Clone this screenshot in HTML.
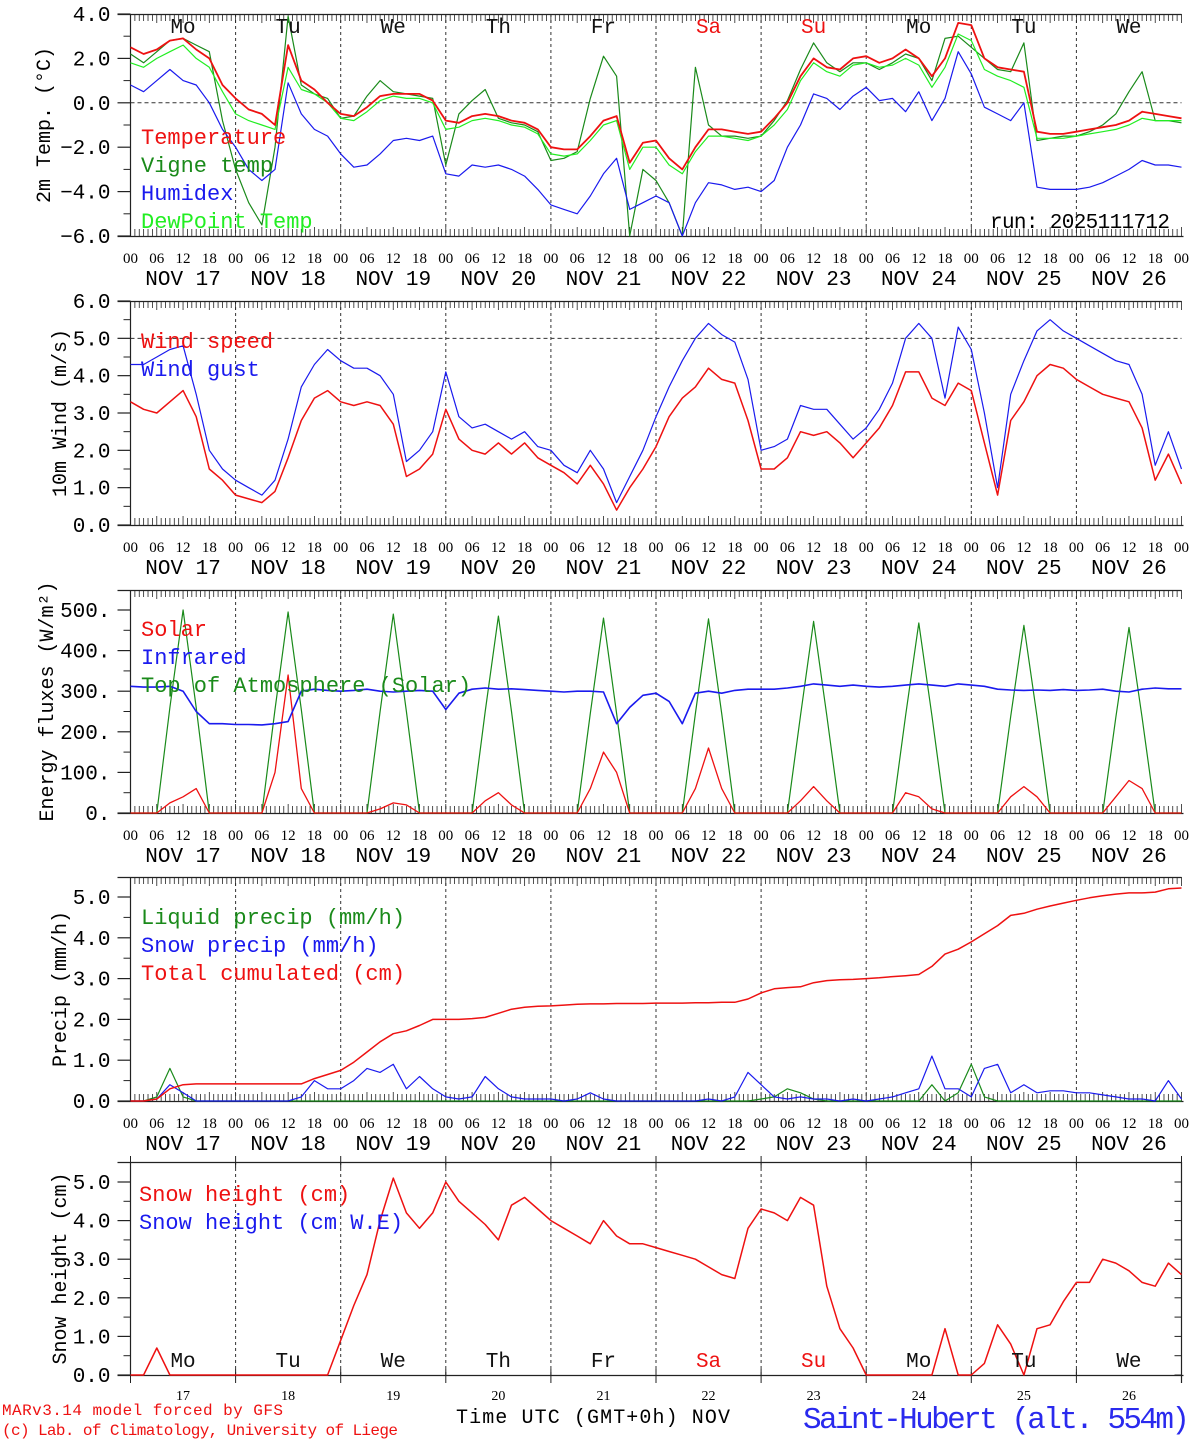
<!DOCTYPE html>
<html><head><meta charset="utf-8"><style>
body{margin:0;background:#fff;width:1194px;height:1440px;overflow:hidden}
svg{display:block}
text{font-family:"Liberation Serif","DejaVu Serif",serif}
.m{font-family:"Liberation Mono","DejaVu Sans Mono",monospace}
</style></head><body>
<svg id="c" width="1194" height="1440" xmlns="http://www.w3.org/2000/svg"></svg>
<script>
// ---- data (3-hourly from NOV 17 00 UTC) ----
const days=['17','18','19','20','21','22','23','24','25','26'];
const dayNames=['Mo','Tu','We','Th','Fr','Sa','Su','Mo','Tu','We'];
const tempVals=[2.5,2.2,2.4,2.8,2.9,2.4,2.0,0.8, 0.2,-0.3,-0.5,-1.0,2.6,1.0,0.6,0.0, -0.5,-0.6,-0.2,0.3,0.4,0.4,0.4,0.1, -0.8,-0.9,-0.6,-0.5,-0.6,-0.8,-0.9,-1.2, -2.0,-2.1,-2.1,-1.5,-0.8,-0.6,-2.7,-1.8, -1.7,-2.5,-3.0,-2.0,-1.2,-1.2,-1.3,-1.4, -1.3,-0.7,0.0,1.2,2.0,1.6,1.5,2.0, 2.1,1.8,2.0,2.4,2.0,1.2,2.0,3.6, 3.5,2.0,1.6,1.5,1.4,-1.3,-1.4,-1.4, -1.3,-1.2,-1.1,-1.0,-0.8,-0.4,-0.5,-0.6,-0.7];
const vigneVals=[2.2,1.8,2.3,2.8,2.9,2.6,2.3,-0.8, -3.0,-4.5,-5.5,-2.0,3.9,0.8,0.4,0.2, -0.7,-0.6,0.3,1.0,0.5,0.4,0.3,0.2, -2.8,-0.5,0.1,0.6,-0.7,-0.9,-1.0,-1.3, -2.6,-2.5,-2.2,0.2,2.1,1.2,-6.0,-3.0, -3.5,-4.5,-6.0,1.6,-1.0,-1.5,-1.5,-1.6, -1.5,-0.8,0.1,1.5,2.7,1.8,1.4,1.8, 1.8,1.5,1.8,2.2,2.0,1.0,2.9,3.0, 2.5,2.0,1.5,1.4,2.7,-1.7,-1.6,-1.5, -1.5,-1.3,-1.0,-0.5,0.5,1.4,-0.8,-0.8,-0.9];
const humidexVals=[0.8,0.5,1.0,1.5,1.0,0.8,0.0,-1.2, -2.0,-3.0,-3.5,-3.0,0.9,-0.5,-1.2,-1.5, -2.3,-2.9,-2.8,-2.3,-1.7,-1.6,-1.7,-1.5, -3.2,-3.3,-2.8,-2.9,-2.8,-3.0,-3.3,-3.9, -4.6,-4.8,-5.0,-4.2,-3.2,-2.5,-4.8,-4.5, -4.2,-4.5,-6.0,-4.5,-3.6,-3.7,-3.9,-3.8, -4.0,-3.5,-2.0,-1.0,0.4,0.2,-0.3,0.3, 0.7,0.1,0.2,-0.4,0.5,-0.8,0.2,2.3, 1.3,-0.2,-0.5,-0.8,0.0,-3.8,-3.9,-3.9, -3.9,-3.8,-3.6,-3.3,-3.0,-2.6,-2.8,-2.8,-2.9];
const dewVals=[1.8,1.6,2.0,2.3,2.6,2.0,1.6,0.5, -0.5,-0.8,-1.0,-1.2,1.6,0.6,0.4,0.0, -0.7,-0.8,-0.4,0.1,0.3,0.2,0.2,0.0, -1.2,-1.1,-0.8,-0.7,-0.8,-1.0,-1.1,-1.4, -2.3,-2.4,-2.3,-1.7,-1.0,-0.8,-3.0,-2.0, -2.0,-2.8,-3.2,-2.2,-1.5,-1.5,-1.6,-1.7, -1.5,-1.0,-0.3,1.0,1.8,1.4,1.2,1.7, 1.8,1.6,1.7,2.0,1.7,0.7,1.6,3.1, 2.8,1.5,1.2,1.0,0.7,-1.6,-1.6,-1.6, -1.5,-1.4,-1.3,-1.2,-1.0,-0.7,-0.8,-0.8,-0.8];
const windVals=[3.3,3.1,3.0,3.3,3.6,2.9,1.5,1.2, 0.8,0.7,0.6,0.9,1.8,2.8,3.4,3.6, 3.3,3.2,3.3,3.2,2.7,1.3,1.5,1.9, 3.1,2.3,2.0,1.9,2.2,1.9,2.2,1.8, 1.6,1.4,1.1,1.6,1.1,0.4,1.0,1.5, 2.1,2.9,3.4,3.7,4.2,3.9,3.8,2.8, 1.5,1.5,1.8,2.5,2.4,2.5,2.2,1.8, 2.2,2.6,3.2,4.1,4.1,3.4,3.2,3.8, 3.6,2.2,0.8,2.8,3.3,4.0,4.3,4.2, 3.9,3.7,3.5,3.4,3.3,2.6,1.2,1.9,1.1];
const gustVals=[4.3,4.3,4.5,4.7,4.8,3.5,2.0,1.5, 1.2,1.0,0.8,1.2,2.3,3.7,4.3,4.7, 4.4,4.2,4.2,4.0,3.5,1.7,2.0,2.5, 4.1,2.9,2.6,2.7,2.5,2.3,2.5,2.1, 2.0,1.6,1.4,2.0,1.5,0.6,1.3,2.0, 2.9,3.7,4.4,5.0,5.4,5.1,4.9,3.9, 2.0,2.1,2.3,3.2,3.1,3.1,2.7,2.3, 2.6,3.1,3.8,5.0,5.4,5.0,3.4,5.3, 4.7,3.0,1.0,3.5,4.4,5.2,5.5,5.2, 5.0,4.8,4.6,4.4,4.3,3.5,1.6,2.5,1.5];
const solarVals=[0,0,0,25,40,60,0,0, 0,0,0,100,340,60,0,0, 0,0,0,10,25,20,0,0, 0,0,0,30,50,20,0,0, 0,0,0,60,150,100,0,0, 0,0,0,60,160,60,0,0, 0,0,0,30,65,30,0,0, 0,0,0,50,40,10,0,0, 0,0,0,40,65,40,0,0, 0,0,0,40,80,60,0,0,0];
const irVals=[312,310,310,312,300,250,220,220, 218,218,217,220,225,300,305,302, 300,302,305,300,298,300,302,300, 255,295,305,308,305,306,304,302, 300,298,300,300,298,220,260,290, 295,275,220,295,300,295,302,305, 305,305,308,312,318,315,312,315, 312,310,312,315,318,315,312,318, 315,312,305,303,302,303,302,304, 302,303,305,300,298,305,308,306,306];
const toaVals=[0,0,0,260,500,260,0,0, 0,0,0,255,495,255,0,0, 0,0,0,250,490,250,0,0, 0,0,0,250,485,250,0,0, 0,0,0,245,480,245,0,0, 0,0,0,245,478,245,0,0, 0,0,0,240,472,240,0,0, 0,0,0,240,468,240,0,0, 0,0,0,238,462,238,0,0, 0,0,0,235,457,235,0,0,0];
const liquidVals=[0,0,0.1,0.8,0.1,0,0,0, 0,0,0,0,0,0,0,0, 0,0,0,0,0,0,0,0, 0,0,0,0,0,0,0,0, 0,0,0,0,0,0,0,0, 0,0,0,0,0,0,0,0, 0.05,0.1,0.3,0.2,0.05,0,0,0, 0,0,0,0,0,0.4,0,0.2, 0.9,0.1,0,0,0,0,0,0, 0,0,0,0,0,0,0,0,0];
const snowVals=[0,0,0.05,0.4,0.2,0,0,0, 0,0,0,0,0,0.1,0.5,0.3, 0.3,0.5,0.8,0.7,0.9,0.3,0.6,0.3, 0.1,0.05,0.1,0.6,0.3,0.1,0.05,0.05, 0.05,0,0.05,0.2,0.05,0,0,0, 0,0,0,0,0.05,0,0.1,0.7, 0.4,0.1,0.05,0.1,0.05,0.05,0,0.05, 0,0.05,0.1,0.2,0.3,1.1,0.3,0.3, 0.1,0.8,0.9,0.2,0.4,0.2,0.25,0.25, 0.2,0.2,0.15,0.1,0.05,0.05,0,0.5,0.05];
const cumVals=[0,0,0.05,0.3,0.4,0.42,0.42,0.42, 0.42,0.42,0.42,0.42,0.42,0.42,0.55,0.65, 0.75,0.95,1.2,1.45,1.65,1.72,1.85,2.0, 2.0,2.0,2.02,2.05,2.15,2.25,2.3,2.32, 2.33,2.35,2.37,2.38,2.38,2.39,2.39,2.39, 2.4,2.4,2.4,2.41,2.41,2.42,2.42,2.5, 2.65,2.75,2.78,2.8,2.9,2.95,2.97,2.98, 3.0,3.02,3.05,3.07,3.1,3.3,3.6,3.72, 3.9,4.1,4.3,4.55,4.6,4.7,4.78,4.85, 4.92,4.98,5.03,5.07,5.1,5.1,5.12,5.2,5.22];
const snowHVals=[0,0,0.7,0,0,0,0,0, 0,0,0,0,0,0,0,0, 0.9,1.8,2.6,4.0,5.1,4.2,3.8,4.2, 5.0,4.5,4.2,3.9,3.5,4.4,4.6,4.3, 4.0,3.8,3.6,3.4,4.0,3.6,3.4,3.4, 3.3,3.2,3.1,3.0,2.8,2.6,2.5,3.8, 4.3,4.2,4.0,4.6,4.4,2.3,1.2,0.7, 0,0,0,0,0,0,1.2,0, 0,0.3,1.3,0.8,0,1.2,1.3,1.9, 2.4,2.4,3.0,2.9,2.7,2.4,2.3,2.9,2.6];

const svg=document.getElementById('c');
const NS='http://www.w3.org/2000/svg';
const X0=130.5,X1=1181.5,STEP=3;
const xOf=h=>X0+h*(X1-X0)/240;
function el(tag,a,parent){const e=document.createElementNS(NS,tag);for(const k in a)e.setAttribute(k,a[k]);(parent||svg).appendChild(e);return e;}
function txt(s,a,parent){const e=el('text',a,parent);e.textContent=s;return e;}

const panels=[
 {name:'temperature',top:14,bot:236,vmin:-6,vmax:4,y0:14,y1:236,ticks:[-6,-4,-2,0,2,4],minor:[-5,-3,-1,1,3],label:'2m Temp. (\u00b0C)',lx:44,
  series:[[vigneVals,'#1a8a1a',1.2],[dewVals,'#22ee22',1.2],[humidexVals,'#1a1aee',1.2],[tempVals,'#ee1111',1.8]],
  legend:[['Temperature','#ee1111'],['Vigne temp','#1a8a1a'],['Humidex','#1a1aee'],['DewPoint Temp','#22ee22']],ly:138,dec:1},
 {name:'wind',top:301,bot:525,vmin:0,vmax:6,y0:301,y1:525,ticks:[0,1,2,3,4,5,6],minor:[0.5,1.5,2.5,3.5,4.5,5.5],label:'10m Wind (m/s)',lx:60,
  series:[[gustVals,'#1a1aee',1.2],[windVals,'#ee1111',1.5]],legend:[['Wind speed','#ee1111'],['Wind gust','#1a1aee']],ly:342,dec:1},
 {name:'energy',top:590,bot:813,vmin:0,vmax:500,y0:610,y1:813,ticks:[0,100,200,300,400,500],minor:[50,150,250,350,450],label:'Energy fluxes (W/m\u00b2)',lx:47,
  series:[[toaVals,'#1a8a1a',1.2],[solarVals,'#ee1111',1.3],[irVals,'#1a1aee',1.6]],legend:[['Solar','#ee1111'],['Infrared','#1a1aee'],['Top of Atmosphere (Solar)','#1a8a1a']],ly:630,dec:0},
 {name:'precip',top:877,bot:1101,vmin:0,vmax:5,y0:897,y1:1101,ticks:[0,1,2,3,4,5],minor:[0.5,1.5,2.5,3.5,4.5],label:'Precip (mm/h)',lx:60,
  series:[[liquidVals,'#1a8a1a',1.2],[snowVals,'#1a1aee',1.2],[cumVals,'#ee1111',1.5]],legend:[['Liquid precip (mm/h)','#1a8a1a'],['Snow precip (mm/h)','#1a1aee'],['Total cumulated (cm)','#ee1111']],ly:918,dec:1},
 {name:'snow-height',top:1162,bot:1375,vmin:0,vmax:5,y0:1182,y1:1375,ticks:[0,1,2,3,4,5],minor:[0.5,1.5,2.5,3.5,4.5],label:'Snow height (cm)',lx:60,
  series:[[snowHVals,'#ee1111',1.5]],legend:[['Snow height (cm)','#ee1111'],['Snow height (cm W.E)','#1a1aee']],ly:1195,dec:1,last:true}
];

panels.forEach(p=>{
  const g=el('g',{});
  
  
  const yOf=v=>p.y1-(v-p.vmin)*(p.y1-p.y0)/(p.vmax-p.vmin);
  for(let d=1;d<10;d++){const x=xOf(d*24);el('line',{x1:x,x2:x,y1:p.top,y2:p.bot,stroke:'#333','stroke-dasharray':'3,3','stroke-width':1},g);}
  if(p.name==='temperature') el('line',{x1:X0,x2:X1,y1:yOf(0),y2:yOf(0),stroke:'#333','stroke-dasharray':'4,3'},g);
  if(p.name==='wind') el('line',{x1:X0,x2:X1,y1:yOf(5),y2:yOf(5),stroke:'#333','stroke-dasharray':'4,3'},g);
  el('line',{x1:X0,x2:X0,y1:p.top,y2:p.bot,stroke:'#222','stroke-width':1.2},g);
  el('line',{x1:X0-13,x2:X1,y1:p.top+0.5,y2:p.top+0.5,stroke:'#222','stroke-width':1.2},g);
  el('line',{x1:X0-13,x2:X1+2,y1:p.bot+0.5,y2:p.bot+0.5,stroke:'#222','stroke-width':1.2},g);
  if(p.last){el('line',{x1:X1,x2:X1,y1:p.top,y2:p.bot+8,stroke:'#222','stroke-width':1.2},g);
    p.ticks.concat(p.minor).forEach(v=>el('line',{x1:X1-7,x2:X1,y1:yOf(v),y2:yOf(v),stroke:'#222'},g));
    for(let d=0;d<=10;d++){const x=xOf(d*24);el('line',{x1:x,x2:x,y1:p.top-6,y2:p.top+6,stroke:'#222'},g);el('line',{x1:x,x2:x,y1:p.bot-6,y2:p.bot+8,stroke:'#222'},g);}
  } else {
    for(let h=0;h<=240;h++){const x=xOf(h);const L=(h%6===0)?9:7;
      el('line',{x1:x,x2:x,y1:p.top,y2:p.top+L,stroke:'#222','stroke-width':0.8},g);
      el('line',{x1:x,x2:x,y1:p.bot-L,y2:p.bot,stroke:'#222','stroke-width':0.8},g);}
    for(let h=0;h<=240;h+=6){const t=txt(String(h%24).padStart(2,'0'),{x:xOf(h),y:p.bot+27,'text-anchor':'middle','font-size':15},g);
      }
    days.forEach((d,i)=>{const t=txt('NOV '+d,{x:xOf(i*24+12),y:p.bot+49,'text-anchor':'middle','font-size':21,class:'m'},g);
      });
  }
  p.ticks.forEach(v=>{const y=yOf(v);el('line',{x1:X0-13,x2:X0,y1:y,y2:y,stroke:'#222','stroke-width':1.2},g);
    let s=p.dec?Math.abs(v).toFixed(1):(v+'.');if(v<0)s='\u2212'+s;
    const t=txt(s,{x:X0-20,y:y+7,'text-anchor':'end','font-size':21,class:'m'},g);
    });
  p.minor.forEach(v=>el('line',{x1:X0-7,x2:X0,y1:yOf(v),y2:yOf(v),stroke:'#222'},g));
  const yl=txt(p.label,{x:0,y:0,'text-anchor':'middle','font-size':20,class:'m',transform:`translate(${p.lx+6},${(p.top+p.bot)/2}) rotate(-90)`},g);
  
  p.series.forEach(([vals,col,w])=>{
    const pts=vals.map((v,i)=>xOf(i*STEP).toFixed(1)+','+Math.max(p.top,Math.min(p.bot,yOf(v))).toFixed(1)).join(' ');
    const pl=el('polyline',{points:pts,fill:'none',stroke:col,'stroke-width':w,'stroke-linejoin':'round'},g);
    
    
  });
  p.legend.forEach(([s,c],i)=>{const t=txt(s,{x:p.last?139:141,y:p.ly+i*28+6,'font-size':22,fill:c,class:'m'},g);
    });
});
dayNames.forEach((n,i)=>{
  const c=(i===5||i===6)?'#ee1111':'#111';
  const a=txt(n,{x:xOf(i*24+12),y:33,'text-anchor':'middle','font-size':21,fill:c,class:'m'});
  
  const b=txt(n,{x:xOf(i*24+12),y:1367,'text-anchor':'middle','font-size':21,fill:c,class:'m'});
  
  const d=txt(days[i],{x:xOf(i*24+12),y:1400,'text-anchor':'middle','font-size':14});
  
});
</script>
<div style="position:absolute;left:0;top:0;width:1194px;height:1440px;pointer-events:none">
<svg width="1194" height="1440" xmlns="http://www.w3.org/2000/svg">
<text x="990" y="228" font-size="21" style="font-family:'Liberation Mono',monospace" textLength="180">run: 2025111712</text>
<text x="2" y="1415" font-size="16" fill="#ee1111" style="font-family:'Liberation Mono',monospace" textLength="281">MARv3.14 model forced by GFS</text>
<text x="2" y="1435" font-size="16" fill="#ee1111" style="font-family:'Liberation Mono',monospace" textLength="396">(c) Lab. of Climatology, University of Liege</text>
<text x="456" y="1423" font-size="20" style="font-family:'Liberation Mono',monospace" textLength="274">Time UTC (GMT+0h) NOV</text>
<text x="803" y="1428" font-size="31" fill="#2a2aee" style="font-family:'Liberation Mono',monospace" textLength="387">Saint-Hubert (alt. 554m)</text>
</svg></div>
</body></html>
